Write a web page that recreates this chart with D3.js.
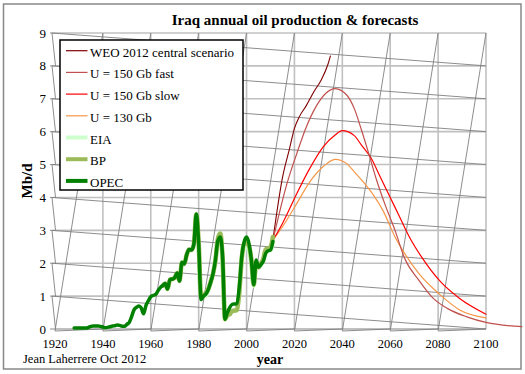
<!DOCTYPE html>
<html>
<head>
<meta charset="utf-8">
<script src="https://cdn.jsdelivr.net/npm/d3@7"></script>
<style>
  body { margin: 0; background: #fff; }
  text { font-family: "Liberation Serif", "Times New Roman", serif; }
</style>
</head>
<body>
<div id="graf"></div>
<script>
// Datos (Mb/d)
var opecStart  = 1928
var opecValues = [0.03, 0.03, 0.03, 0.03, 0.03, 0.03, 0.05, 0.08, 0.09, 0.09,
                  0.09, 0.08, 0.06, 0.04, 0.05, 0.07, 0.09, 0.10, 0.12, 0.11,
                  0.08, 0.08, 0.14, 0.20, 0.38, 0.58, 0.66, 0.70, 0.64, 0.46,
                  0.72, 0.86, 0.98, 1.02, 1.05, 1.16, 1.26, 1.32, 1.38, 1.22,
                  1.50, 1.52, 1.56, 1.70, 1.46, 2.02, 1.98, 2.26, 2.42, 2.40,
                  2.58, 3.50, 2.60, 0.90, 1.00, 1.06, 1.20, 1.42, 1.68, 2.10,
                  2.68, 2.80, 2.20, 0.30, 0.50, 0.66, 0.75, 0.76, 0.77, 1.30,
                  2.20, 2.65, 2.80, 2.60, 2.10, 1.35, 2.10, 1.88, 1.96, 2.06,
                  2.30, 2.38, 2.40, 2.66]
var bpStart  = 1965
var bpValues = [1.32, 1.38, 1.22, 1.50, 1.52, 1.56, 1.70, 1.46, 2.02, 1.98,
                2.26, 2.42, 2.40, 2.58, 3.48, 2.65, 1.00, 1.01, 1.10, 1.21,
                1.43, 1.69, 2.08, 2.74, 2.90, 2.15, 0.30, 0.42, 0.45, 0.55,
                0.56, 0.58, 1.15, 2.15, 2.61, 2.61, 2.52, 2.12, 1.34, 2.03,
                1.88, 2.00, 2.14, 2.42, 2.45, 2.49, 2.80]
var eiaStart  = 1980
var eiaValues = [2.51, 1.00, 1.01, 1.01, 1.21, 1.43, 1.69, 2.08, 2.69, 2.90,
                 2.04, 0.30, 0.43, 0.50, 0.55, 0.56, 0.58, 1.15, 2.15, 2.51,
                 2.58, 2.39, 2.02, 1.31, 2.01, 1.88, 1.96, 2.09, 2.38, 2.40,
                 2.40, 2.63]

var weoYears  = [2011, 2015, 2018, 2020, 2022, 2025, 2028, 2031, 2034, 2035]
var weoValues = [2.70, 4.60, 5.50, 6.10, 6.45, 6.80, 7.20, 7.55, 8.05, 8.30]

var fastYears  = [2011, 2017, 2021, 2025, 2029, 2033, 2037, 2042, 2045, 2048, 2051, 2054,
                  2058, 2062, 2066, 2072, 2078, 2084, 2092, 2100, 2115]
var fastValues = [2.70, 4.45, 5.34, 6.15, 6.76, 7.16, 7.31, 7.10, 6.70, 6.05, 5.34, 4.60,
                  3.75, 3.00, 2.15, 1.48, 0.93, 0.62, 0.37, 0.20, 0.07]

var slowYears  = [2011, 2015, 2021, 2026, 2032, 2037, 2040, 2045, 2048, 2052, 2056, 2060,
                  2064, 2068, 2073, 2081, 2089, 2100]
var slowValues = [2.70, 3.21, 4.12, 4.83, 5.54, 5.90, 6.03, 5.88, 5.59, 5.20, 4.60, 4.00,
                  3.40, 2.80, 2.20, 1.44, 0.93, 0.45]

var u130Years  = [2011, 2015, 2021, 2026, 2032, 2037, 2042, 2045, 2049, 2053, 2057, 2062,
                  2066, 2072, 2081, 2089, 2100]
var u130Values = [2.70, 3.11, 3.82, 4.43, 4.94, 5.16, 5.02, 4.78, 4.45, 4.07, 3.60, 2.80,
                  2.30, 1.68, 1.03, 0.58, 0.34]

var yTicks = [0, 1, 2, 3, 4, 5, 6, 7, 8, 9]
var xTicks = [1920, 1940, 1960, 1980, 2000, 2020, 2040, 2060, 2080, 2100]

var leyenda = [
  { nombre: 'WEO 2012 central scenario', color: '#7f0000', ancho: 1.2 },
  { nombre: 'U = 150 Gb fast',           color: '#c0504d', ancho: 1.2 },
  { nombre: 'U = 150 Gb slow',           color: '#ff0000', ancho: 1.2 },
  { nombre: 'U = 130 Gb',                color: '#f79646', ancho: 1.2 },
  { nombre: 'EIA',                       color: '#ccffcc', ancho: 4 },
  { nombre: 'BP',                        color: '#9bbb59', ancho: 4 },
  { nombre: 'OPEC',                      color: '#008000', ancho: 4 }
]

// armar series
function anual(start, values) { return values.map((v, i) => [start + i, v]) }
function pares(years, values) { return years.map((a, i) => [a, values[i]]) }

ancho_total = 525
alto_total  = 374

svg = d3.select('#graf').append('svg')
        .attr('width', ancho_total)
        .attr('height', alto_total)

x = d3.scaleLinear().domain([1920, 2100]).range([55, 486])
y = d3.scaleLinear().domain([0, 9]).range([329, 33])

// marco exterior
svg.append('rect')
   .attr('x', 3.5).attr('y', 4)
   .attr('width', 517.5).attr('height', 365)
   .attr('fill', 'none')
   .attr('stroke', '#888')
   .attr('stroke-width', 1.5)

// titulo
svg.append('text')
   .attr('x', 295).attr('y', 25)
   .attr('text-anchor', 'middle')
   .style('font-size', '15px')
   .style('font-weight', 'bold')
   .text('Iraq annual oil production & forecasts')

g = svg.append('g')

// rejilla normal
g.selectAll('line.hgrid').data(yTicks.filter(d => d > 0)).enter()
 .append('line').attr('class', 'hgrid')
 .attr('x1', x(1920)).attr('x2', x(2100))
 .attr('y1', d => y(d)).attr('y2', d => y(d))
 .attr('stroke', '#c0c0c0').attr('stroke-width', 1.6)

g.selectAll('line.vgrid').data(xTicks.filter(d => d > 1920)).enter()
 .append('line').attr('class', 'vgrid')
 .attr('x1', d => x(d)).attr('x2', d => x(d))
 .attr('y1', y(0)).attr('y2', y(9))
 .attr('stroke', '#c0c0c0').attr('stroke-width', 1.6)

// rejilla inclinada
var gris = '#808080'
g.selectAll('line.vskew').data(xTicks.slice(0, -1)).enter()
 .append('line').attr('class', 'vskew')
 .attr('x1', d => x(d)).attr('y1', y(0) + 2)
 .attr('x2', d => x(d + 20)).attr('y2', y(9))
 .attr('stroke', gris).attr('stroke-width', 0.9)

g.selectAll('line.bskew').data(xTicks.slice(0, -1)).enter()
 .append('line').attr('class', 'bskew')
 .attr('x1', d => x(d)).attr('y1', y(0) + 2)
 .attr('x2', d => x(d + 20)).attr('y2', y(0))
 .attr('stroke', gris).attr('stroke-width', 0.9)

g.selectAll('line.hskew').data(yTicks.filter(d => d > 0)).enter()
 .append('line').attr('class', 'hskew')
 .attr('x1', x(1920) - 3).attr('y1', d => y(d))
 .attr('x2', x(2100)).attr('y2', d => y(d - 1))
 .attr('stroke', gris).attr('stroke-width', 0.9)

g.selectAll('line.lskew').data(yTicks.filter(d => d > 0)).enter()
 .append('line').attr('class', 'lskew')
 .attr('x1', x(1920) - 3).attr('y1', d => y(d))
 .attr('x2', x(1920) + 0.5).attr('y2', d => y(d - 1))
 .attr('stroke', gris).attr('stroke-width', 0.9)

g.selectAll('line.ytick').data(yTicks).enter()
 .append('line').attr('class', 'ytick')
 .attr('x1', x(1920) - 5).attr('x2', x(1920))
 .attr('y1', d => y(d)).attr('y2', d => y(d))
 .attr('stroke', gris).attr('stroke-width', 0.9)

g.append('line')
 .attr('x1', x(1920)).attr('x2', x(2100))
 .attr('y1', y(0)).attr('y2', y(0))
 .attr('stroke', gris).attr('stroke-width', 1)

// etiquetas de ejes
g.selectAll('text.ylab').data(yTicks).enter()
 .append('text').attr('class', 'ylab')
 .attr('x', 46).attr('y', d => y(d) + 4.5)
 .attr('text-anchor', 'end')
 .style('font-size', '13px')
 .text(d => d)

g.selectAll('text.xlab').data(xTicks).enter()
 .append('text').attr('class', 'xlab')
 .attr('x', d => x(d)).attr('y', 347.5)
 .attr('text-anchor', 'middle')
 .style('font-size', '12.5px')
 .text(d => d)

svg.append('text')
   .attr('transform', 'translate(31.5, 181) rotate(-90)')
   .attr('text-anchor', 'middle')
   .style('font-size', '15px')
   .style('font-weight', 'bold')
   .text('Mb/d')

svg.append('text')
   .attr('x', 270).attr('y', 364)
   .attr('text-anchor', 'middle')
   .style('font-size', '14px')
   .style('font-weight', 'bold')
   .text('year')

svg.append('text')
   .attr('x', 23).attr('y', 363)
   .style('font-size', '12.5px')
   .text('Jean Laherrere Oct 2012')

// series
linea = d3.line()
          .x(d => x(d[0]))
          .y(d => y(d[1]))
          .curve(d3.curveMonotoneX)

var series = [
  { datos: pares(weoYears, weoValues),   color: '#7f0000', ancho: 1.1 },
  { datos: pares(u130Years, u130Values), color: '#f79646', ancho: 1.2 },
  { datos: pares(slowYears, slowValues), color: '#ff0000', ancho: 1.2 },
  { datos: pares(fastYears, fastValues), color: '#c0504d', ancho: 1.2 },
  { datos: anual(eiaStart, eiaValues),   color: '#ccffcc', ancho: 4.5 },
  { datos: anual(bpStart, bpValues),     color: '#9bbb59', ancho: 4.5 },
  { datos: anual(opecStart, opecValues), color: '#008000', ancho: 3.5 }
]

g.selectAll('path.serie').data(series).enter()
 .append('path').attr('class', 'serie')
 .attr('d', d => linea(d.datos))
 .attr('fill', 'none')
 .attr('stroke', d => d.color)
 .attr('stroke-width', d => d.ancho)
 .attr('stroke-linejoin', 'round')
 .attr('stroke-linecap', 'round')

// leyenda
ley = svg.append('g')
ley.append('rect')
   .attr('x', 60).attr('y', 40)
   .attr('width', 183).attr('height', 150)
   .attr('fill', '#fff')
   .attr('stroke', '#000')
   .attr('stroke-width', 1.5)

items = ley.selectAll('g.item').data(leyenda).enter()
           .append('g').attr('class', 'item')
           .attr('transform', (d, i) => `translate(0, ${ 50.7 + i * 21.7 })`)
items.append('line')
     .attr('x1', 66).attr('x2', 87.5)
     .attr('y1', 0).attr('y2', 0)
     .attr('stroke', d => d.color)
     .attr('stroke-width', d => d.ancho)
items.append('text')
     .attr('x', 90).attr('y', 6)
     .style('font-size', '13px')
     .text(d => d.nombre)
</script>
</body>
</html>
